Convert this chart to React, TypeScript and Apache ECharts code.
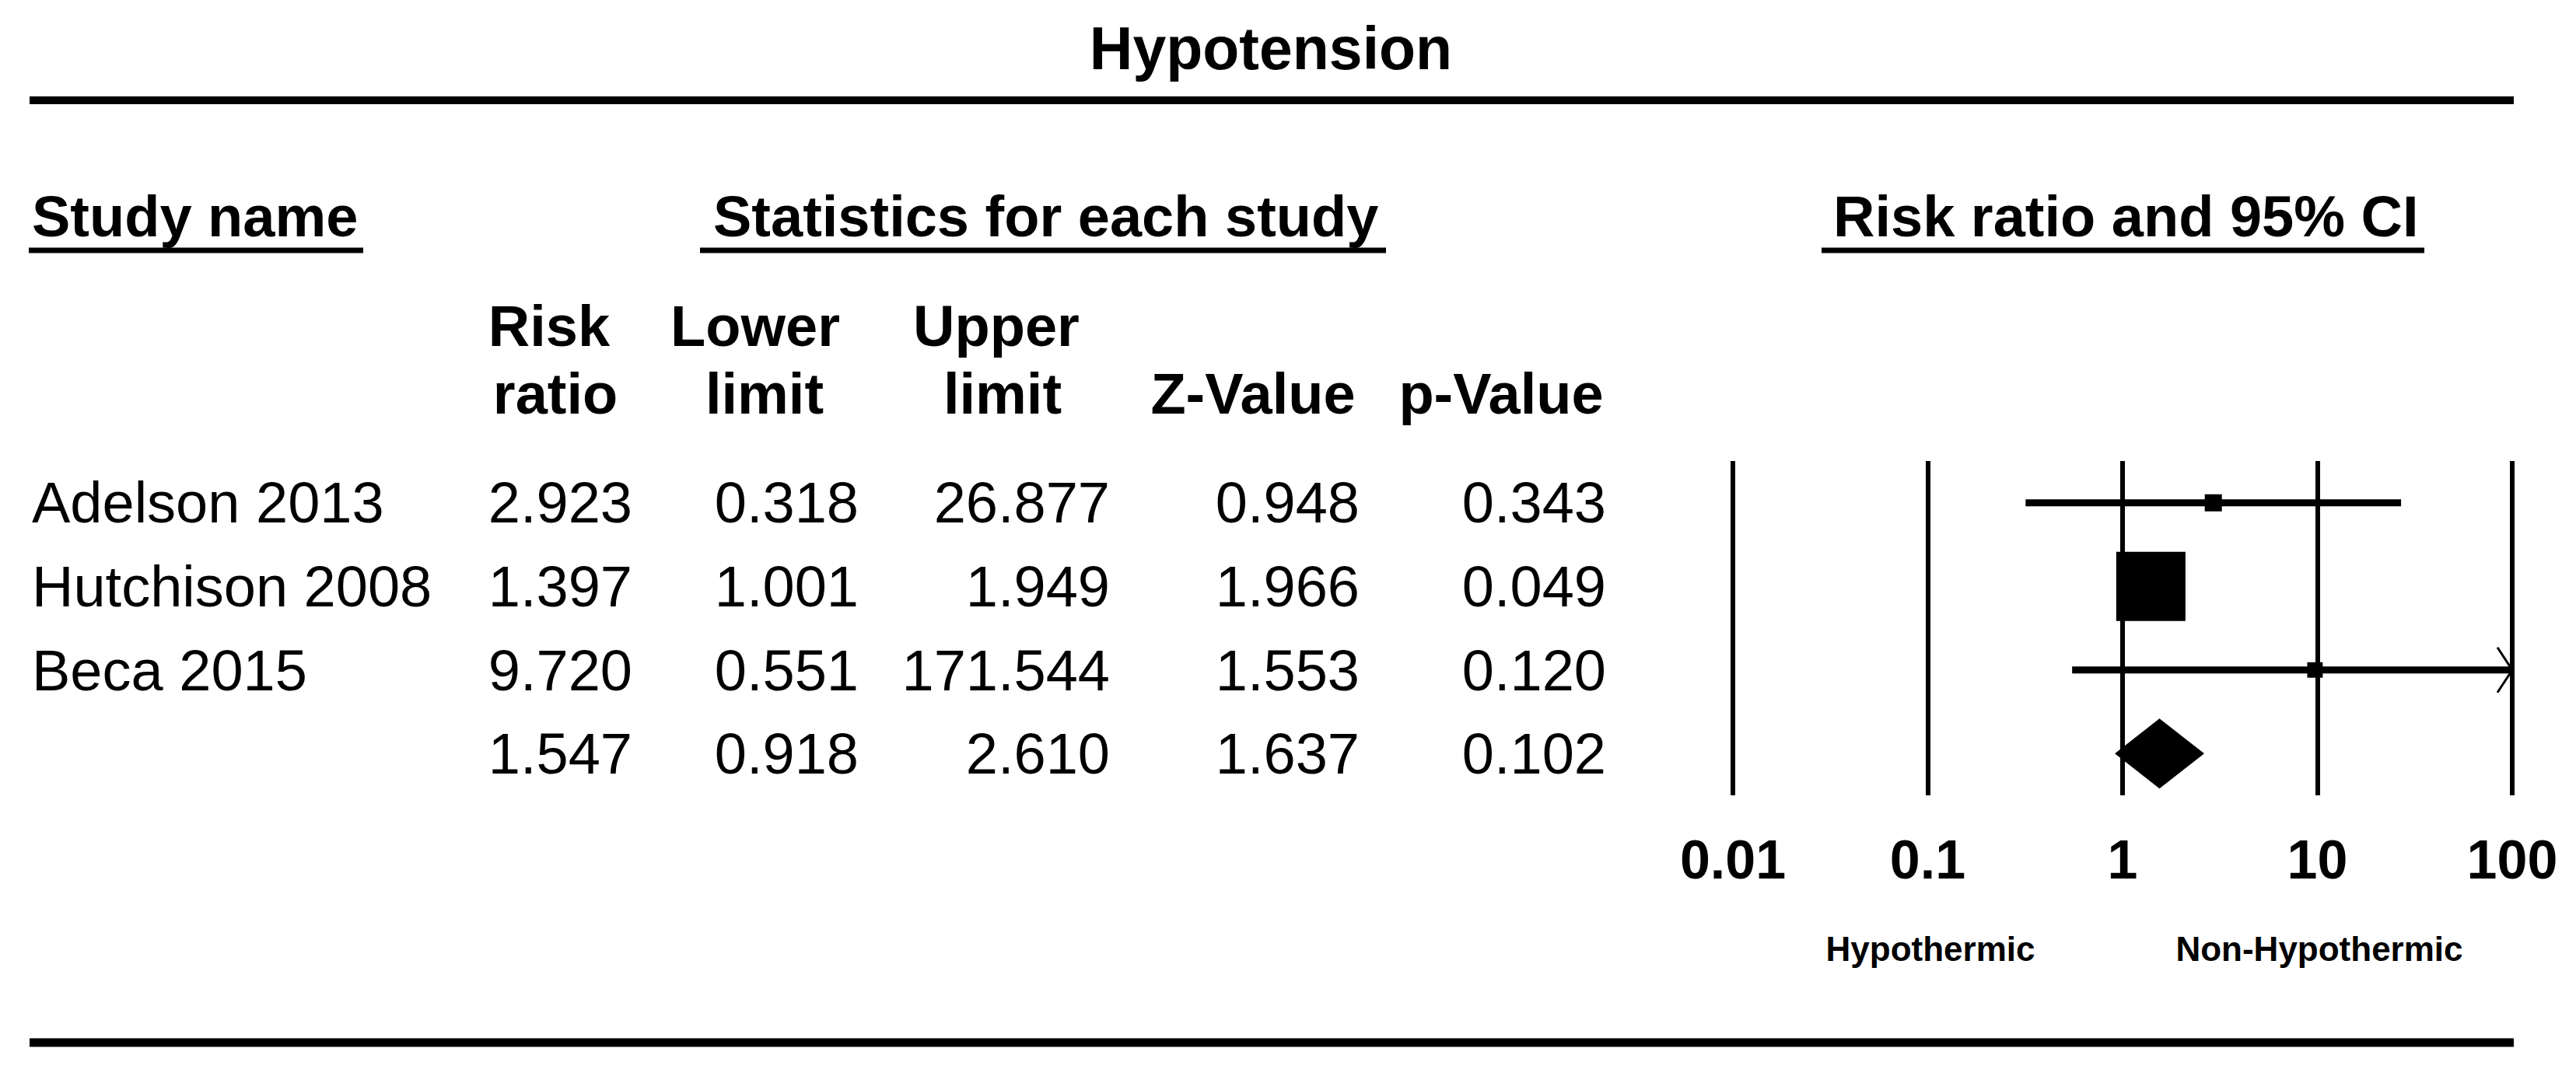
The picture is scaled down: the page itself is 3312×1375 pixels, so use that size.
import React, { useEffect, useRef } from "react";
import * as echarts from "echarts";

// ---------- data ----------
const chartTitle = "Hypotension";
const groupHeaders = ["Study name", "Statistics for each study", "Risk ratio and 95% CI"];
const columnHeaderTop = ["Risk", "Lower", "Upper", "", ""];
const columnHeaderBottom = ["ratio", "limit", "limit", "Z-Value", "p-Value"];
const studyNames = ["Adelson 2013", "Hutchison 2008", "Beca 2015", ""];
const riskRatio = [2.923, 1.397, 9.72, 1.547];
const lowerLimit = [0.318, 1.001, 0.551, 0.918];
const upperLimit = [26.877, 1.949, 171.544, 2.61];
const zValue = [0.948, 1.966, 1.553, 1.637];
const pValue = [0.343, 0.049, 0.12, 0.102];
const isSummary = [false, false, false, true];
const relativeWeight = [5.5, 90.0, 4.5, 100];
const tickLabels = ["0.01", "0.1", "1", "10", "100"];
const favoursLabels = ["Hypothermic", "Non-Hypothermic"];

const FONT = '"Liberation Sans", Arial, Helvetica, sans-serif';

export default function App() {
  const ref = useRef<HTMLDivElement>(null);

  useEffect(() => {
    if (!ref.current) return;
    const chart = echarts.init(ref.current, null, { renderer: "svg" });

    const xMin = 0.01;
    const xMax = 100;
    const maxBox = 89;
    const maxW = Math.max(...relativeWeight.slice(0, 3));

    const forestData = riskRatio.map((rr, i) => [
      rr,
      lowerLimit[i],
      upperLimit[i],
      i,
      relativeWeight[i],
      isSummary[i] ? 1 : 0,
    ]);

    const txt = (
      text: string,
      x: number,
      y: number,
      size: number,
      bold: boolean,
      align: string
    ) => ({
      type: "text",
      x,
      y,
      silent: true,
      style: {
        text,
        fill: "#000",
        fontSize: size,
        fontWeight: bold ? "bold" : "normal",
        fontFamily: FONT,
        align,
        verticalAlign: "middle",
      },
    });

    const hline = (x1: number, x2: number, y: number, w: number) => ({
      type: "line",
      silent: true,
      shape: { x1, y1: y, x2, y2: y },
      style: { stroke: "#000", lineWidth: w },
    });

    const graphics: any[] = [];
    graphics.push(txt(chartTitle, 1634, 62, 77, true, "center"));
    graphics.push(hline(38, 3232, 129, 10));
    graphics.push(hline(38, 3232, 1341, 11));

    // group headers + underlines
    const groupX = [41, 917, 2357];
    const underl = [
      [37, 467],
      [900, 1782],
      [2342, 3117],
    ];
    groupHeaders.forEach((h, i) => {
      graphics.push(txt(h, groupX[i], 278, 74, true, "left"));
      graphics.push(hline(underl[i][0], underl[i][1], 322, 7));
    });

    // column headers
    const topCenters = [706, 971, 1281, 1611, 1930];
    const botCenters = [714, 983, 1289, 1611, 1930];
    columnHeaderTop.forEach((h, i) => {
      if (h) graphics.push(txt(h, topCenters[i], 419, 74, true, "center"));
    });
    columnHeaderBottom.forEach((h, i) => {
      graphics.push(txt(h, botCenters[i], 506, 74, true, "center"));
    });

    // table rows
    const rowY = [646, 754, 862, 969];
    const colRight = [813, 1104, 1427, 1748, 2065];
    const cols = [riskRatio, lowerLimit, upperLimit, zValue, pValue];
    studyNames.forEach((n, i) => {
      if (n) graphics.push(txt(n, 41, rowY[i], 74, false, "left"));
      cols.forEach((c, j) => {
        graphics.push(txt(c[i].toFixed(3), colRight[j], rowY[i], 74, false, "right"));
      });
    });

    // favours labels
    graphics.push(txt(favoursLabels[0], 2482, 1220, 44, true, "center"));
    graphics.push(txt(favoursLabels[1], 2982, 1220, 44, true, "center"));

    const option: any = {
      animation: false,
      backgroundColor: "#ffffff",
      grid: { left: 2228, right: 3312 - 3230, top: 593, bottom: 1375 - 1023, containLabel: false },
      xAxis: {
        type: "log",
        logBase: 10,
        min: xMin,
        max: xMax,
        splitNumber: 4,
        axisLine: { show: false },
        axisTick: { show: false },
        splitLine: { show: true, lineStyle: { color: "#000", width: 6 } },
        axisLabel: {
          show: true,
          showMinLabel: true,
          showMaxLabel: true,
          margin: 83,
          verticalAlign: "middle",
          color: "#000",
          fontSize: 70,
          fontWeight: "bold",
          fontFamily: FONT,
          formatter: (v: number, idx: number) =>
            tickLabels[idx] !== undefined ? tickLabels[idx] : String(+v.toPrecision(3)),
        },
      },
      yAxis: {
        type: "value",
        min: -0.5,
        max: 3.5,
        inverse: true,
        show: false,
        splitLine: { show: false },
      },
      series: [
        {
          type: "custom",
          clip: false,
          encode: { x: [0, 1, 2], y: 3 },
          data: forestData,
          renderItem: (params: any, api: any) => {
            const rr = api.value(0);
            const lo = api.value(1);
            const hi = api.value(2);
            const row = api.value(3);
            const w = api.value(4);
            const summ = api.value(5) === 1;
            const pRR = api.coord([rr, row]);
            const pLo = api.coord([Math.max(lo, xMin), row]);
            const pHi = api.coord([Math.min(hi, xMax), row]);
            const y = pRR[1];
            if (summ) {
              const h = 44.5;
              return {
                type: "polygon",
                shape: {
                  points: [
                    [pLo[0], y],
                    [pRR[0], y - h],
                    [pHi[0], y],
                    [pRR[0], y + h],
                  ],
                },
                style: { fill: "#000", stroke: "#000", lineWidth: 1 },
              };
            }
            const children: any[] = [
              {
                type: "line",
                shape: { x1: pLo[0], y1: y, x2: pHi[0], y2: y },
                style: { stroke: "#000", lineWidth: 9 },
              },
            ];
            if (hi > xMax) {
              children.push({
                type: "polyline",
                shape: {
                  points: [
                    [pHi[0] - 19, y - 29],
                    [pHi[0], y],
                    [pHi[0] - 19, y + 29],
                  ],
                },
                style: { stroke: "#000", lineWidth: 3, fill: "none" },
              });
            }
            const s = maxBox * Math.sqrt(w / maxW);
            children.push({
              type: "rect",
              shape: { x: pRR[0] - s / 2, y: y - s / 2, width: s, height: s },
              style: { fill: "#000" },
            });
            return { type: "group", children };
          },
        },
      ],
      graphic: graphics,
    };

    chart.setOption(option);
    return () => {
      chart.dispose();
    };
  }, []);

  return (
    <div
      ref={ref}
      style={{
        position: "absolute",
        left: 0,
        top: 0,
        width: 3312,
        height: 1375,
        background: "#fff",
      }}
    />
  );
}
